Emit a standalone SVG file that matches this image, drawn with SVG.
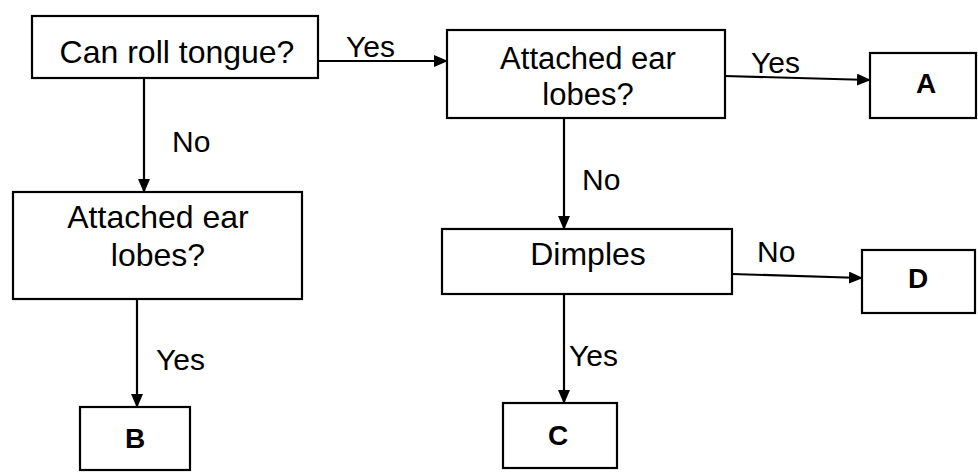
<svg xmlns="http://www.w3.org/2000/svg" width="978" height="475" viewBox="0 0 978 475">
<style>
.box{fill:#fff;stroke:#000;stroke-width:2.2}
.t{font-family:"Liberation Sans",Arial,sans-serif;font-size:32px;fill:#000;text-anchor:middle}
.s{font-size:31px}
.b{font-family:"Liberation Sans",Arial,sans-serif;font-size:28px;font-weight:bold;fill:#000;text-anchor:middle}
.l{font-family:"Liberation Sans",Arial,sans-serif;font-size:30px;fill:#000}
.c{fill:none;stroke:#000;stroke-width:2.2;marker-end:url(#ah)}
</style>
<defs>
<marker id="ah" markerUnits="userSpaceOnUse" markerWidth="14" markerHeight="12" refX="13" refY="6" orient="auto">
<path d="M0,0 L14,6 L0,12 z" fill="#000"/>
</marker>
</defs>
<rect width="978" height="475" fill="#fff"/>
<g id="connectors">
<line class="c" x1="318" y1="61" x2="447" y2="61"/>
<line class="c" x1="144" y1="78" x2="144" y2="192"/>
<line class="c" x1="725" y1="76" x2="870" y2="80"/>
<line class="c" x1="564" y1="118" x2="564" y2="229"/>
<line class="c" x1="137" y1="299" x2="137" y2="407"/>
<line class="c" x1="564" y1="294" x2="564" y2="403"/>
<line class="c" x1="732" y1="274" x2="862" y2="278"/>
<text class="l" x="346" y="57">Yes</text>
<text class="l" x="172" y="152">No</text>
<text class="l" x="751" y="73">Yes</text>
<text class="l" x="582" y="190">No</text>
<text class="l" x="156" y="370">Yes</text>
<text class="l" x="569" y="366">Yes</text>
<text class="l" x="757" y="262">No</text>
</g>
<g id="n1">
<rect class="box" x="32" y="16" width="286" height="62"/>
<text class="t" x="177" y="63">Can roll tongue?</text>
</g>
<g id="n2">
<rect class="box" x="447" y="30" width="278" height="88"/>
<text class="t s" x="588" y="69">Attached ear</text>
<text class="t s" x="588" y="105">lobes?</text>
</g>
<g id="nA">
<rect class="box" x="870" y="53" width="106" height="65"/>
<text class="b" x="926" y="93">A</text>
</g>
<g id="n3">
<rect class="box" x="13" y="192" width="289" height="107"/>
<text class="t" x="158" y="228">Attached ear</text>
<text class="t" x="158" y="266">lobes?</text>
</g>
<g id="n4">
<rect class="box" x="442" y="229" width="290" height="65"/>
<text class="t" x="588" y="265">Dimples</text>
</g>
<g id="nD">
<rect class="box" x="862" y="250" width="113" height="63"/>
<text class="b" x="918" y="288">D</text>
</g>
<g id="nB">
<rect class="box" x="80" y="407" width="110" height="63"/>
<text class="b" x="135" y="448">B</text>
</g>
<g id="nC">
<rect class="box" x="503" y="403" width="114" height="65"/>
<text class="b" x="558" y="445">C</text>
</g>
</svg>
